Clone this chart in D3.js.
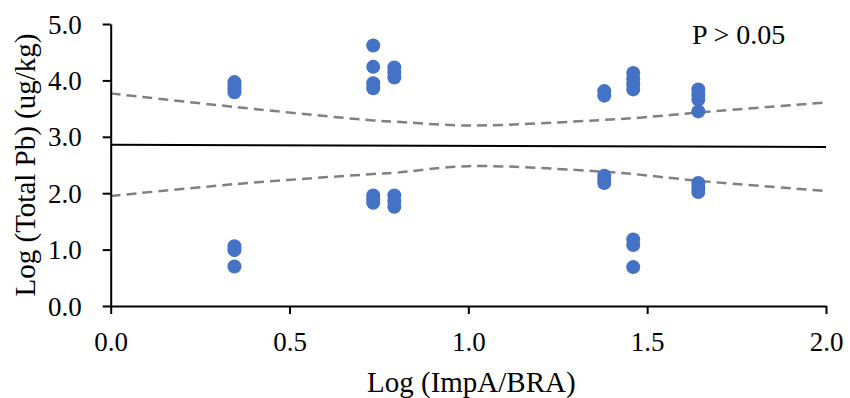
<!DOCTYPE html>
<html>
<head>
<meta charset="utf-8">
<script src="https://cdn.jsdelivr.net/npm/d3@7"></script>
<style>
  html, body { margin: 0; padding: 0; background: #fff; }
  svg { display: block; }
  text { font-family: "Liberation Serif", "Times New Roman", serif; fill: #000; }
</style>
</head>
<body>
<svg id="chart" width="850" height="398"></svg>
<script>
// ---- data ----
const pointX = [
  0.346, 0.346, 0.346, 0.346, 0.346, 0.346, 0.346,
  0.734, 0.734, 0.734, 0.734, 0.734, 0.734, 0.734,
  0.793, 0.793, 0.793, 0.793, 0.793, 0.793,
  1.380, 1.380, 1.380, 1.380, 1.380,
  1.461, 1.461, 1.461, 1.461, 1.461, 1.461, 1.461,
  1.643, 1.643, 1.643, 1.643, 1.643, 1.643, 1.643
];
const pointY = [
  3.97, 3.91, 3.85, 3.79, 1.06, 0.99, 0.70,
  4.62, 4.24, 3.95, 3.86, 1.96, 1.89, 1.83,
  4.23, 4.14, 4.05, 1.96, 1.86, 1.76,
  3.81, 3.73, 2.31, 2.24, 2.18,
  4.13, 4.02, 3.93, 3.84, 1.18, 1.08, 0.69,
  3.84, 3.75, 3.66, 3.45, 2.18, 2.09, 2.02
];
const trendX = [0, 2.0];
const trendY = [2.86, 2.82];
const bandX = [0, 0.346, 0.734, 0.793, 1.0, 1.380, 1.461, 1.643, 2.0];
const bandUpper = [3.77, 3.53, 3.29, 3.27, 3.20, 3.30, 3.33, 3.43, 3.61];
const bandLower = [1.95, 2.16, 2.34, 2.36, 2.48, 2.38, 2.34, 2.22, 2.04];
const xTicks = [0, 0.5, 1.0, 1.5, 2.0];
const yTicks = [0, 1, 2, 3, 4, 5];
const xTitle = "Log (ImpA/BRA)";
const yTitle = "Log (Total Pb) (ug/kg)";
const note = "P > 0.05";

// ---- chart ----
const svg = d3.select("#chart");
const x = d3.scaleLinear().domain([0, 2]).range([110.7, 826]);
const y = d3.scaleLinear().domain([0, 5]).range([306, 24]);

// confidence band lines (dashed)
const bandLine = d3.line().x(d => x(d[0])).y(d => y(d[1])).curve(d3.curveCatmullRom.alpha(0.5));
[bandUpper, bandLower].forEach(arr => {
  svg.append("path")
    .attr("d", bandLine(bandX.map((v, i) => [v, arr[i]])))
    .attr("fill", "none")
    .attr("stroke", "#808080")
    .attr("stroke-width", 2.5)
    .attr("stroke-dasharray", "10,6");
});

// trend line
svg.append("path")
  .attr("d", d3.line().x(d => x(d[0])).y(d => y(d[1]))(trendX.map((v, i) => [v, trendY[i]])))
  .attr("fill", "none")
  .attr("stroke", "#000")
  .attr("stroke-width", 2);

// points
svg.append("g").selectAll("circle")
  .data(pointX.map((v, i) => [v, pointY[i]]))
  .join("circle")
  .attr("cx", d => x(d[0]))
  .attr("cy", d => y(d[1]))
  .attr("r", 7)
  .attr("fill", "#4472C4");

// axes
const xAxis = svg.append("g")
  .attr("transform", `translate(0,${y(0)})`)
  .call(d3.axisBottom(x).tickValues(xTicks).tickFormat(d3.format(".1f")).tickSize(8).tickSizeOuter(0));
xAxis.selectAll("text").attr("dy", null).attr("y", 45).style("font-size", "27px")
  .style("font-family", "'Liberation Serif', serif");

const yAxis = svg.append("g")
  .attr("transform", `translate(${x(0)},0)`)
  .call(d3.axisLeft(y).tickValues(yTicks).tickFormat(d3.format(".1f")).tickSize(8).tickSizeOuter(0));
yAxis.selectAll("text").attr("x", -29).attr("dy", "0.34em").style("font-size", "27px")
  .style("font-family", "'Liberation Serif', serif");

[xAxis, yAxis].forEach(g => {
  g.select(".domain").attr("stroke", "#000").attr("stroke-width", 2);
  g.selectAll(".tick line").attr("stroke", "#000").attr("stroke-width", 2);
});

// titles
svg.append("text")
  .attr("x", (x(0) + x(2)) / 2 + 3)
  .attr("y", 392)
  .attr("text-anchor", "middle")
  .style("font-size", "29px")
  .text(xTitle);

svg.append("text")
  .attr("transform", `translate(35,${(y(0) + y(5)) / 2}) rotate(-90)`)
  .attr("text-anchor", "middle")
  .style("font-size", "29px")
  .text(yTitle);

svg.append("text")
  .attr("x", 692)
  .attr("y", 44)
  .style("font-size", "28px")
  .text(note);
</script>
</body>
</html>
